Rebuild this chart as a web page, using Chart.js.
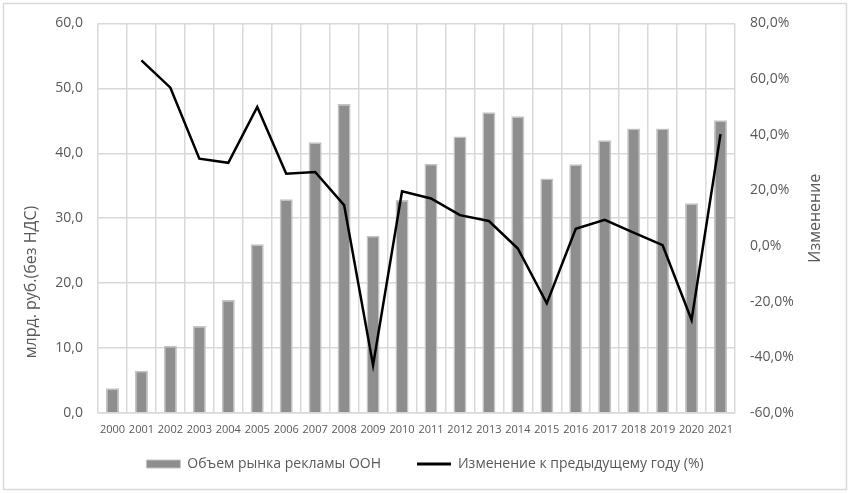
<!doctype html>
<html>
<head>
<meta charset="utf-8">
<title>Рынок рекламы ООН</title>
<style>
  html, body { margin: 0; padding: 0; background: #fff; }
  #wrap { width: 850px; height: 494px; }
</style>
</head>
<body>
<div id="wrap"><canvas id="chart" width="850" height="494"></canvas></div>
<script src="https://cdn.jsdelivr.net/npm/chart.js"></script>
<script>
// данные
var years = ['2000','2001','2002','2003','2004','2005','2006','2007','2008','2009','2010',
             '2011','2012','2013','2014','2015','2016','2017','2018','2019','2020','2021'];
var marketVolume = [3.8, 6.5, 10.3, 13.4, 17.4, 26.0, 32.9, 41.7, 47.6, 27.3, 32.8,
                    38.4, 42.6, 46.3, 45.7, 36.1, 38.3, 42.0, 43.8, 43.8, 32.3, 45.1];
var yearChange = [null, 66.7, 56.9, 31.4, 29.9, 50.0, 26.0, 26.6, 14.7, -42.8, 19.7,
                  17.1, 11.1, 9.0, -0.9, -20.6, 6.2, 9.4, 4.8, 0.3, -26.6, 40.2];
var leftTicks = [0, 10, 20, 30, 40, 50, 60];
var rightTicks = [-60, -40, -20, 0, 20, 40, 60, 80];

var FONT = "'Open Sans', 'DejaVu Sans', sans-serif";
var TXT = '#595959';
var GRID = '#d9d9d9';

function comma(v) { return v.toFixed(1).replace('.', ','); }

// рамка вокруг диаграммы и подписи осей
var decor = {
  id: 'decor',
  afterLayout: function(chart) {
    // легенда чуть выше, чтобы между элементами был широкий промежуток
    var lg = chart.legend;
    var h = lg.bottom - lg.top;
    lg.top = 421;
    lg.bottom = 421 + h;
  },
  beforeDraw: function(chart) {
    var c = chart.ctx;
    c.save();
    c.fillStyle = '#fff';
    c.fillRect(0, 0, chart.width, chart.height);
    c.strokeStyle = GRID;
    c.lineWidth = 1.5;
    c.strokeRect(3.5, 3.5, 843, 486);
    c.restore();
  },
  afterDraw: function(chart) {
    var c = chart.ctx, a = chart.chartArea;
    function vtext(txt, x, y) {
      c.save();
      c.fillStyle = TXT;
      c.font = '16px ' + FONT;
      c.textAlign = 'center';
      c.textBaseline = 'middle';
      c.translate(x, y);
      c.rotate(-Math.PI / 2);
      c.fillText(txt, 0, 0);
      c.restore();
    }
    vtext('млрд. руб.(без НДС)', 31, 282);
    vtext('Изменение', 815, (a.top + a.bottom) / 2);
  }
};

var ctx = document.getElementById('chart').getContext('2d');
var chart = new Chart(ctx, {
  type: 'bar',
  data: {
    labels: years,
    datasets: [{
      label: 'Объем рынка рекламы ООН',
      data: marketVolume,
      backgroundColor: '#8e8e8e',
      borderColor: '#c4c4c4',
      borderWidth: 1.5,
      barPercentage: 0.45,
      categoryPercentage: 1,
      yAxisID: 'y',
      order: 2
    }, {
      type: 'line',
      label: 'Изменение к предыдущему году (%)',
      data: yearChange,
      borderColor: '#000',
      backgroundColor: '#000',
      borderWidth: 2.5,
      pointRadius: 0,
      tension: 0,
      yAxisID: 'y1',
      order: 1
    }]
  },
  options: {
    responsive: false,
    animation: false,
    devicePixelRatio: 1,
    layout: { padding: { top: 23, left: 0, right: 0, bottom: -9 } },
    plugins: {
      tooltip: { enabled: false },
      legend: {
        position: 'bottom',
        labels: {
          usePointStyle: true,
          pointStyleWidth: 34,
          boxHeight: 8,
          padding: 36,
          color: TXT,
          font: { family: FONT, size: 14 },
          sort: function(a, b) { return a.datasetIndex - b.datasetIndex; },
          generateLabels: function(chart) {
            var items = Chart.defaults.plugins.legend.labels.generateLabels(chart);
            items.forEach(function(it) {
              if (it.datasetIndex === 0) {
                it.pointStyle = 'rect';
                it.fillStyle = '#8e8e8e';
                it.strokeStyle = '#c4c4c4';
                it.lineWidth = 1;
              } else {
                it.pointStyle = 'line';
                it.strokeStyle = '#000';
                it.lineWidth = 3;
              }
            });
            return items;
          }
        }
      }
    },
    scales: {
      x: {
        offset: true,
        grid: { color: GRID, lineWidth: 1.5, offset: true, drawTicks: false },
        border: { color: GRID, width: 1.5 },
        ticks: { color: TXT, font: { family: FONT, size: 11 }, padding: 10, maxRotation: 0, autoSkip: false },
        afterFit: function(s) { s.height = 30; }
      },
      y: {
        position: 'left',
        min: 0, max: 60,
        afterBuildTicks: function(s) { s.ticks = leftTicks.map(function(v) { return { value: v }; }); },
        grid: { color: GRID, lineWidth: 1.5, drawTicks: false },
        border: { display: false },
        ticks: { color: TXT, font: { family: FONT, size: 14 }, padding: 15, callback: function(v) { return comma(v); } },
        afterFit: function(s) { s.width = 98; }
      },
      y1: {
        position: 'right',
        min: -60, max: 80,
        afterBuildTicks: function(s) { s.ticks = rightTicks.map(function(v) { return { value: v }; }); },
        grid: { display: false, drawTicks: false },
        border: { display: false },
        ticks: { color: TXT, font: { family: FONT, size: 14 }, padding: 15, callback: function(v) { return comma(v) + '%'; } },
        afterFit: function(s) { s.width = 115; }
      }
    }
  },
  plugins: [decor]
});
</script>
</body>
</html>
